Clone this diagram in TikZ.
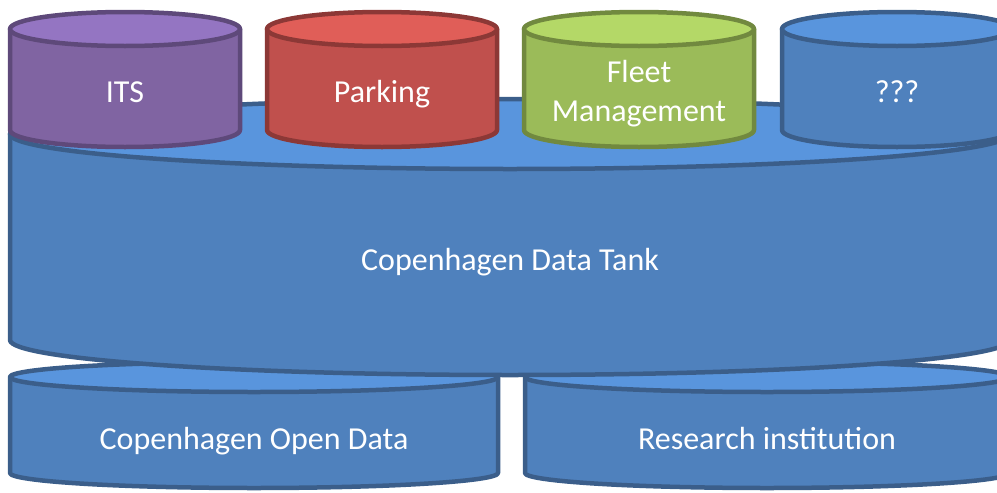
\documentclass[tikz,border=0pt]{standalone}
\usepackage{fontspec}
\setmainfont{Carlito}
\usepackage{tikz}
\usetikzlibrary{positioning}
\definecolor{purplebody}{RGB}{128,100,162}
\definecolor{purpletop}{RGB}{148,117,194}
\definecolor{purpleline}{RGB}{94,73,122}
\definecolor{redbody}{RGB}{192,80,77}
\definecolor{redtop}{RGB}{224,94,88}
\definecolor{redline}{RGB}{140,56,54}
\definecolor{greenbody}{RGB}{155,187,89}
\definecolor{greentop}{RGB}{180,216,103}
\definecolor{greenline}{RGB}{113,137,63}
\definecolor{bluebody}{RGB}{79,129,189}
\definecolor{bluetop}{RGB}{89,149,221}
\definecolor{blueline}{RGB}{59,94,138}

% #1 name, #2 centre x, #3 top y, #4 bottom y, #5 x radius, #6 y radius,
% #7 colour, #8 baseline of (last line of) text, #9 text
\newcommand{\drum}[9]{%
  \path[drumline, draw=#7line, fill=#7body] ({#2-#5},#3) -- ({#2-#5},#4)
    arc[start angle=180, end angle=360, x radius=#5pt, y radius=#6pt]
    -- ({#2+#5},#3) -- cycle;
  \path[drumline, draw=#7line, fill=#7top] (#2,#3) ellipse[x radius=#5pt, y radius=#6pt];
  \node[drumlabel] (#1) at (#2,#8) {#9};
}

\begin{document}
\begin{tikzpicture}[
    x=1pt, y=1pt,
    drumline/.style={line width=4.5pt, line join=round},
    drumlabel/.style={text=white, anchor=base, align=center,
        font=\fontsize{32}{39}\selectfont}
]
\useasboundingbox (0,0) rectangle (997,-493);
\clip (0,0) rectangle (997,-493);

% consumers below the tank
\drum{opendata}{254}{-377}{-473}{244}{15}{blue}{-449}{Copenhagen Open Data}
\drum{research}{767}{-377}{-473}{242}{15}{blue}{-449}{Research institution}

% the tank
\drum{tank}{510}{-134}{-340}{500}{35}{blue}{-270}{Copenhagen Data Tank}

% sources on top
\drum{its}{125}{-29}{-130}{115}{17}{purple}{-102}{ITS}
\drum{parking}{382}{-29}{-130}{115}{17}{red}{-102}{Parking}
\drum{fleet}{639}{-29}{-130}{115}{17}{green}{-121}{Fleet\\Management}
\drum{unknown}{897}{-29}{-130}{115}{17}{blue}{-102}{???}

\end{tikzpicture}
\end{document}
